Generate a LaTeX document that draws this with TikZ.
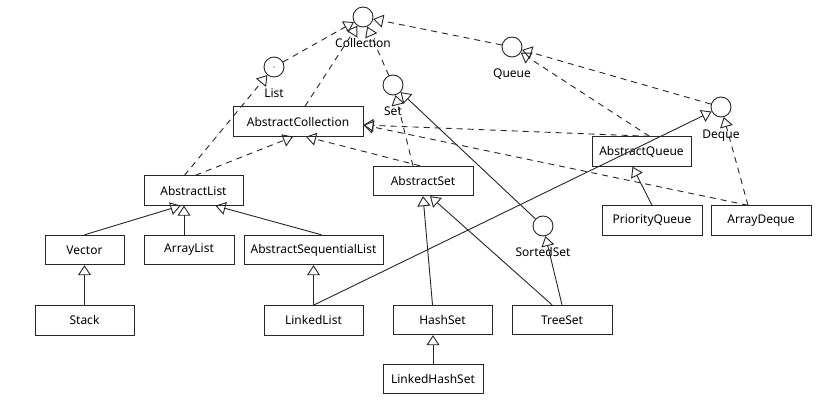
\documentclass[tikz,border=0pt]{standalone}
\usepackage{fontspec}
\setmainfont{Noto Sans}
\usepackage{tikz}
\usetikzlibrary{arrows.meta, positioning}

\begin{document}
\begin{tikzpicture}[
    x=1pt, y=-1pt,
    % Node styles
    iface/.style={circle, draw=black!85, line width=0.9pt, minimum size=20pt, inner sep=0pt},
    ilabel/.style={inner sep=0pt, font=\fontsize{12}{14}\selectfont},
    cls/.style={rectangle, draw=black!85, line width=0.9pt, minimum width=99pt, minimum height=29.5pt, inner sep=2pt, font=\fontsize{12}{14}\selectfont},
    % Connector styles
    impl/.style={draw=black!85, line width=0.9pt, dash pattern=on 6pt off 5pt, -{Triangle[open, length=10pt, width=13pt]}},
    ext/.style={draw=black!85, line width=0.9pt, -{Triangle[open, length=10pt, width=13pt]}},
]
\useasboundingbox[fill=white] (0,0) rectangle (838,410);

% Interfaces
\node[iface] (coll) at (363, 17) {};
\node[iface] (list) at (274, 67) {};
\node[iface] (set) at (393, 85) {};
\node[iface] (queue) at (512, 47) {};
\node[iface] (deque) at (721, 107) {};
\node[iface] (sorted) at (543, 226) {};
\fill[black!85] (list.center) circle (0.7pt);

% Interface names
\node[ilabel, below=11pt of coll] (coll-l) {Collection};
\node[ilabel, below=11pt of list] (list-l) {List};
\node[ilabel, below=11pt of set] (set-l) {Set};
\node[ilabel, below=11pt of queue] (queue-l) {Queue};
\node[ilabel, below=12pt of deque] (deque-l) {Deque};
\node[ilabel, below=11pt of sorted] (sorted-l) {SortedSet};

% Abstract classes
\node[cls, minimum width=130pt] (abcoll) at (298, 121.5) {AbstractCollection};
\node[cls] (ablist) at (193.5, 190.5) {AbstractList};
\node[cls, minimum width=100pt] (abset) at (423, 181) {AbstractSet};
\node[cls] (abqueue) at (641.5, 151.5) {AbstractQueue};

% List side
\node[cls, minimum width=79pt] (vector) at (84.5, 250) {Vector};
\node[cls, minimum width=90pt] (arraylist) at (189, 250) {ArrayList};
\node[cls, minimum width=139pt] (asl) at (313.5, 250) {AbstractSequentialList};
\node[cls, below=40pt of vector] (stack) {Stack};
\node[cls, below=40pt of asl] (linkedlist) {LinkedList};

% Set side
\node[cls] (hashset) at (442.5, 320) {HashSet};
\node[cls, minimum width=100pt] (treeset) at (562, 320) {TreeSet};
\node[cls, minimum width=100pt] (lhs) at (433, 379) {LinkedHashSet};

% Queue side
\node[cls, minimum width=100pt] (pq) at (652, 220.5) {PriorityQueue};
\node[cls, minimum width=100pt] (arraydeque) at (761, 220.5) {ArrayDeque};

% Interface inheritance
\draw[impl] (list) -- (coll);
\draw[impl] (set) -- (coll);
\draw[impl] (queue) -- (coll);
\draw[impl] (deque) -- (queue);
\draw[ext] (sorted) -- (set);

% Abstract classes implementing interfaces
\draw[impl] ([xshift=7pt]abcoll.north) -- (coll);
\draw[impl] ([xshift=-9pt]ablist.north) -- (list);
\draw[impl] ([xshift=2pt]ablist.north) -- ([xshift=-5pt]abcoll.south);
\draw[impl] ([xshift=-3pt]abset.north) -- ([xshift=8pt]abcoll.south);
\draw[impl] ([xshift=-10pt]abset.north) -- (set);
\draw[impl] ([xshift=8pt]abqueue.north) -- (queue);
\draw[impl] ([xshift=8pt]abqueue.north) -- ([yshift=-3.5pt]abcoll.east);
\draw[impl] ([xshift=-13pt]arraydeque.north) -- ([yshift=-3.5pt]abcoll.east);
\draw[impl] ([xshift=-13pt]arraydeque.north) -- (deque);

% Concrete classes
\draw[ext] (vector.north) -- ([xshift=-13pt]ablist.south);
\draw[ext] ([xshift=-5pt]arraylist.north) -- ([xshift=-5pt]arraylist.north |- ablist.south);
\draw[ext] ([xshift=8pt]asl.north) -- ([xshift=22pt]ablist.south);
\draw[ext] (stack) -- (vector);
\draw[ext] (linkedlist) -- (asl);
\draw[ext] (linkedlist.north) -- (deque);
\draw[ext] ([xshift=-10pt]hashset.north) -- (abset.south);
\draw[ext] ([xshift=-10pt]treeset.north) -- ([xshift=7pt]abset.south);
\draw[ext] (treeset.north) -- (sorted);
\draw[ext] (lhs) -- (lhs |- hashset.south);
\draw[ext] (pq.north) -- ([xshift=-9pt]abqueue.south);

\end{tikzpicture}
\end{document}
